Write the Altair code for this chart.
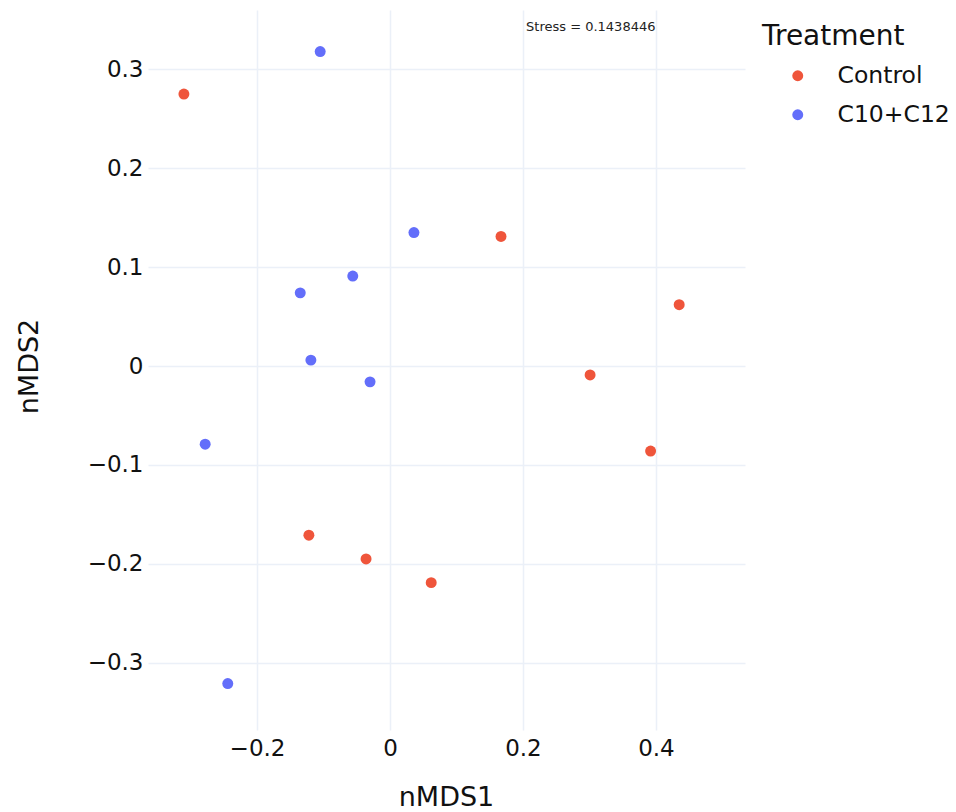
import altair as alt
import pandas as pd

treatment = ["Control"] * 8 + ["C10+C12"] * 8
nmds1 = [-0.310, 0.167, 0.435, 0.301, 0.392, -0.122, -0.036, 0.062,
         -0.105, 0.036, -0.056, -0.135, -0.119, -0.030, -0.278, -0.244]
nmds2 = [0.275, 0.131, 0.062, -0.009, -0.086, -0.171, -0.195, -0.219,
         0.318, 0.135, 0.091, 0.074, 0.006, -0.016, -0.079, -0.321]
stress_label = "Stress = 0.1438446"

df = pd.DataFrame({"nMDS1": nmds1, "nMDS2": nmds2, "Treatment": treatment})
ann = pd.DataFrame({"x": [0.302], "y": [0.343], "t": [stress_label]})

FONT = "DejaVu Sans"
xscale = alt.Scale(domain=[-0.364, 0.534], nice=False, zero=False)
yscale = alt.Scale(domain=[-0.368, 0.360], nice=False, zero=False)

points = alt.Chart(df).mark_circle(size=120, opacity=1).encode(
    x=alt.X("nMDS1:Q", scale=xscale,
            axis=alt.Axis(values=[-0.2, 0, 0.2, 0.4], title="nMDS1",
                          titleX=298, titleY=67, titleBaseline="middle",
                          labelPadding=7, format="~g")),
    y=alt.Y("nMDS2:Q", scale=yscale,
            axis=alt.Axis(values=[-0.3, -0.2, -0.1, 0, 0.1, 0.2, 0.3], title="nMDS2",
                          titleX=-119, titleY=356, titleBaseline="middle",
                          titleAngle=-90, titleAlign="center",
                          labelPadding=5, format="~g")),
    color=alt.Color("Treatment:N",
                    scale=alt.Scale(domain=["Control", "C10+C12"],
                                    range=["#EF553B", "#636EFA"]),
                    legend=alt.Legend(orient="none", legendX=614, legendY=13,
                                      title="Treatment", symbolType="circle",
                                      symbolSize=120, symbolOffset=24,
                                      labelOffset=28, rowPadding=14,
                                      titlePadding=13, padding=0)),
)

text = alt.Chart(ann).mark_text(font=FONT, fontSize=13, color="#222222",
                                baseline="middle", align="center").encode(
    x=alt.X("x:Q", scale=xscale),
    y=alt.Y("y:Q", scale=yscale),
    text="t:N",
)

chart = (points + text).properties(
    width=597, height=720,
    autosize=alt.AutoSizeParams(type="none"),
    padding={"left": 148, "top": 10, "right": 211, "bottom": 82},
).configure_view(stroke=None).configure_axis(
    grid=True, gridColor="#EBF0F8", gridWidth=1.5, domain=False, ticks=False,
    labelFont=FONT, labelFontSize=23, labelColor="#111111",
    titleFont=FONT, titleFontSize=27, titleColor="#111111", titleFontWeight="normal",
).configure_legend(
    titleFont=FONT, titleFontSize=28, titleFontWeight="normal", titleColor="#111111",
    labelFont=FONT, labelFontSize=23.5, labelColor="#111111",
)

chart.save("out.html", embed_options={"renderer": "svg", "actions": False})
